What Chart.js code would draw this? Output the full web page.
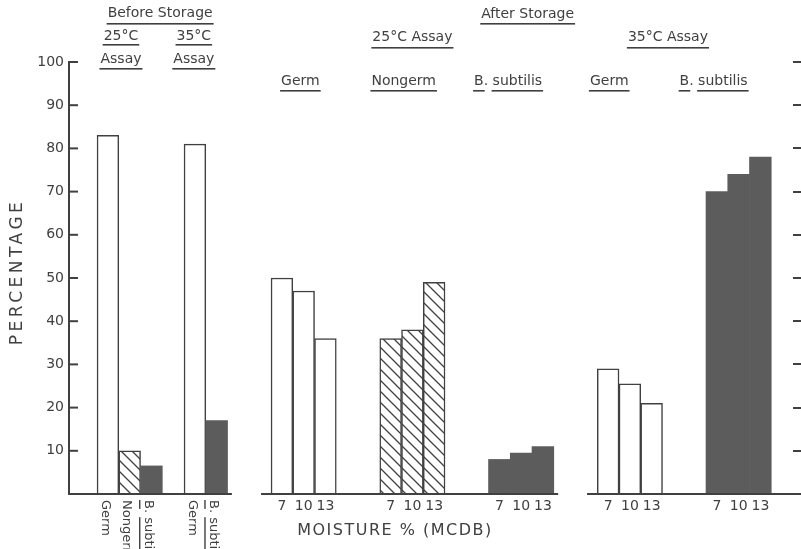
<!DOCTYPE html>
<html>
<head>
<meta charset="utf-8">
<title>Percentage by moisture, before and after storage</title>
<script src="https://cdn.jsdelivr.net/npm/chart.js@4.4.1/dist/chart.umd.min.js"></script>
<style>
  html, body { margin: 0; padding: 0; background: #fff; }
  canvas { display: block; }
</style>
</head>
<body>
<canvas id="chart" width="801" height="549"></canvas>
<script>
// values (percent)
const moistureLevels = ["7", "10", "13"];
const beforeGerm = [83, 81];        // 25°C assay, 35°C assay
const beforeNongerm = [10];         // 25°C assay only
const beforeSubtilis = [6.5, 17];   // 25°C assay, 35°C assay
const afterGerm25 = [50, 47, 36];
const afterNongerm25 = [36, 38, 49];
const afterSubtilis25 = [8, 9.5, 11];
const afterGerm35 = [29, 25.5, 21];
const afterSubtilis35 = [70, 74, 78];
const yTicks = [10, 20, 30, 40, 50, 60, 70, 80, 90, 100];

const INK = "#404040";
const DARK = "#5c5c5c";
const FONT = '"DejaVu Sans", sans-serif';

// every bar sits in one slot of the x axis, slots are one unit wide
const bars = [];
function addBar(slot, value, kind, label) {
  bars.push({ slot: slot, value: value, kind: kind, label: label });
}
addBar(0, beforeGerm[0], "germ", "Germ");
addBar(1, beforeNongerm[0], "nongerm", "Nongerm");
addBar(2, beforeSubtilis[0], "subtilis", "B. subtilis");
addBar(4, beforeGerm[1], "germ", "Germ");
addBar(5, beforeSubtilis[1], "subtilis", "B. subtilis");

const afterGroups = [
  { start: 8, values: afterGerm25, kind: "germ" },
  { start: 13, values: afterNongerm25, kind: "nongerm" },
  { start: 18, values: afterSubtilis25, kind: "subtilis" },
  { start: 23, values: afterGerm35, kind: "germ" },
  { start: 28, values: afterSubtilis35, kind: "subtilis" }
];
const moistureTicks = [];
afterGroups.forEach(function (g) {
  g.values.forEach(function (v, i) {
    addBar(g.start + i, v, g.kind, moistureLevels[i]);
    moistureTicks.push({ value: g.start + i + 0.5, text: moistureLevels[i] });
  });
});

function hatch() {
  const c = document.createElement("canvas");
  c.width = 11; c.height = 11;
  const g = c.getContext("2d");
  g.fillStyle = "#fff";
  g.fillRect(0, 0, 11, 11);
  g.strokeStyle = INK;
  g.lineWidth = 1.3;
  g.beginPath();
  g.moveTo(-1, -1); g.lineTo(12, 12);
  g.moveTo(-1, 10); g.lineTo(1, 12);
  g.moveTo(10, -1); g.lineTo(12, 1);
  g.stroke();
  return g.createPattern(c, "repeat");
}
const hatchFill = hatch();
const fills = { germ: "#ffffff", nongerm: hatchFill, subtilis: DARK };
const edges = { germ: INK, nongerm: INK, subtilis: DARK };

// header texts; "at" is a position on the x axis
const sub = [{ t: "B", u: true }, { t: ". ", u: false }, { t: "subtilis", u: true }];
const headers = [
  { parts: "Before Storage", at: 2.9, y: 13, line: 23 },
  { parts: "25°C", at: 1.1, y: 36, line: 44 },
  { parts: "Assay", at: 1.1, y: 59, line: 68 },
  { parts: "35°C", at: 4.45, y: 36, line: 44 },
  { parts: "Assay", at: 4.45, y: 59, line: 68 },
  { parts: "After Storage", at: 19.8, y: 14, line: 23 },
  { parts: "25°C Assay", at: 14.5, y: 37, line: 47 },
  { parts: "35°C Assay", at: 26.25, y: 37, line: 47 },
  { parts: "Germ", at: 9.35, y: 81, line: 90 },
  { parts: "Nongerm", at: 14.1, y: 81, line: 90 },
  { parts: sub, at: 18.9, y: 81, line: 90 },
  { parts: "Germ", at: 23.55, y: 81, line: 90 },
  { parts: sub, at: 28.35, y: 81, line: 90 }
];

function asParts(p) {
  if (typeof p === "string") return [{ t: p, u: true }];
  return p;
}

function drawParts(ctx, parts, cx, cy, lineY) {
  const widths = parts.map(function (p) { return ctx.measureText(p.t).width; });
  const total = widths.reduce(function (a, b) { return a + b; }, 0);
  let x = cx - total / 2;
  parts.forEach(function (p, i) {
    ctx.fillText(p.t, x, cy);
    if (p.u) ctx.fillRect(x - 1, lineY, widths[i] + 2, 1.6);
    x += widths[i];
  });
}

const decor = {
  id: "decor",
  afterDraw: function (chart) {
    const ctx = chart.ctx;
    const xs = chart.scales.x;
    const ys = chart.scales.y;
    const area = chart.chartArea;
    const base = ys.getPixelForValue(0);
    ctx.save();

    // inward ticks on the left axis
    ctx.strokeStyle = INK;
    ctx.lineWidth = 2;
    ys.ticks.forEach(function (t) {
      const y = ys.getPixelForValue(t.value);
      ctx.beginPath();
      ctx.moveTo(area.left, y);
      ctx.lineTo(area.left + 9, y);
      ctx.stroke();
    });

    // baseline, broken between the panels
    [[xs.min, 6.2], [7.54, 21.2], [22.53, null]].forEach(function (s) {
      ctx.beginPath();
      ctx.moveTo(xs.getPixelForValue(s[0]), base);
      ctx.lineTo(s[1] === null ? chart.width : xs.getPixelForValue(s[1]), base);
      ctx.stroke();
    });

    // headers
    ctx.fillStyle = INK;
    ctx.font = "14px " + FONT;
    ctx.textAlign = "left";
    ctx.textBaseline = "middle";
    headers.forEach(function (h) {
      drawParts(ctx, asParts(h.parts), xs.getPixelForValue(h.at), h.y, h.line);
    });

    // rotated names under the before-storage bars
    ctx.font = "13px " + FONT;
    bars.filter(function (b) { return b.slot < 8; }).forEach(function (b) {
      ctx.save();
      ctx.translate(xs.getPixelForValue(b.slot + 0.5) - 3, base + 6);
      ctx.rotate(Math.PI / 2);
      const parts = b.kind === "subtilis" ? sub : [{ t: b.label, u: false }];
      let x = 0;
      parts.forEach(function (p) {
        const w = ctx.measureText(p.t).width;
        ctx.fillText(p.t, x, 0);
        if (p.u) ctx.fillRect(x, 8, w, 1.4);
        x += w;
      });
      ctx.restore();
    });

    // axis titles
    ctx.font = "16px " + FONT;
    ctx.textAlign = "center";
    ctx.letterSpacing = "1.5px";
    ctx.fillText("MOISTURE % (MCDB)", xs.getPixelForValue(13.7), 531);
    ctx.save();
    ctx.translate(18, 272);
    ctx.rotate(-Math.PI / 2);
    ctx.font = "17px " + FONT;
    ctx.letterSpacing = "3.5px";
    ctx.fillText("PERCENTAGE", 0, 0);
    ctx.restore();

    ctx.restore();
  }
};

new Chart(document.getElementById("chart"), {
  type: "bar",
  data: {
    datasets: [{
      data: bars.map(function (b) { return { x: b.slot + 0.5, y: b.value }; }),
      backgroundColor: bars.map(function (b) { return fills[b.kind]; }),
      borderColor: bars.map(function (b) { return edges[b.kind]; }),
      borderWidth: bars.map(function (b) { return b.kind === "subtilis" ? 0 : 1.5; }),
      barPercentage: 1,
      categoryPercentage: 1
    }]
  },
  options: {
    responsive: false,
    animation: false,
    layout: { padding: { top: 62, left: 0, right: 0, bottom: 0 } },
    plugins: { legend: { display: false }, tooltip: { enabled: false } },
    scales: {
      x: {
        type: "linear",
        offset: false,
        min: -1.29,
        max: 32,
        grid: { display: false, drawTicks: false },
        border: { display: false },
        afterBuildTicks: function (scale) {
          scale.ticks = moistureTicks.map(function (t) { return { value: t.value }; });
        },
        afterFit: function (scale) { scale.height = 55; },
        ticks: {
          autoSkip: false,
          maxRotation: 0,
          minRotation: 0,
          padding: 4,
          color: INK,
          font: { family: FONT, size: 14 },
          callback: function (value) {
            const m = moistureTicks.find(function (t) { return Math.abs(t.value - value) < 0.01; });
            return m ? m.text : "";
          }
        }
      },
      y: {
        min: 0,
        max: 100,
        position: "left",
        grid: { drawOnChartArea: false, drawTicks: false },
        border: { display: true, color: INK, width: 2 },
        afterBuildTicks: function (scale) {
          scale.ticks = yTicks.map(function (v) { return { value: v }; });
        },
        afterFit: function (scale) { scale.width = 69; },
        ticks: {
          padding: 5,
          color: INK,
          font: { family: FONT, size: 14 }
        }
      },
      yRight: {
        min: 0,
        max: 100,
        position: "right",
        grid: { drawOnChartArea: false, drawTicks: true, tickLength: 8, color: INK, lineWidth: 2 },
        border: { display: false },
        afterBuildTicks: function (scale) {
          scale.ticks = yTicks.map(function (v) { return { value: v }; });
        },
        afterFit: function (scale) { scale.width = 8; },
        ticks: { display: false }
      }
    }
  },
  plugins: [decor]
});
</script>
</body>
</html>
